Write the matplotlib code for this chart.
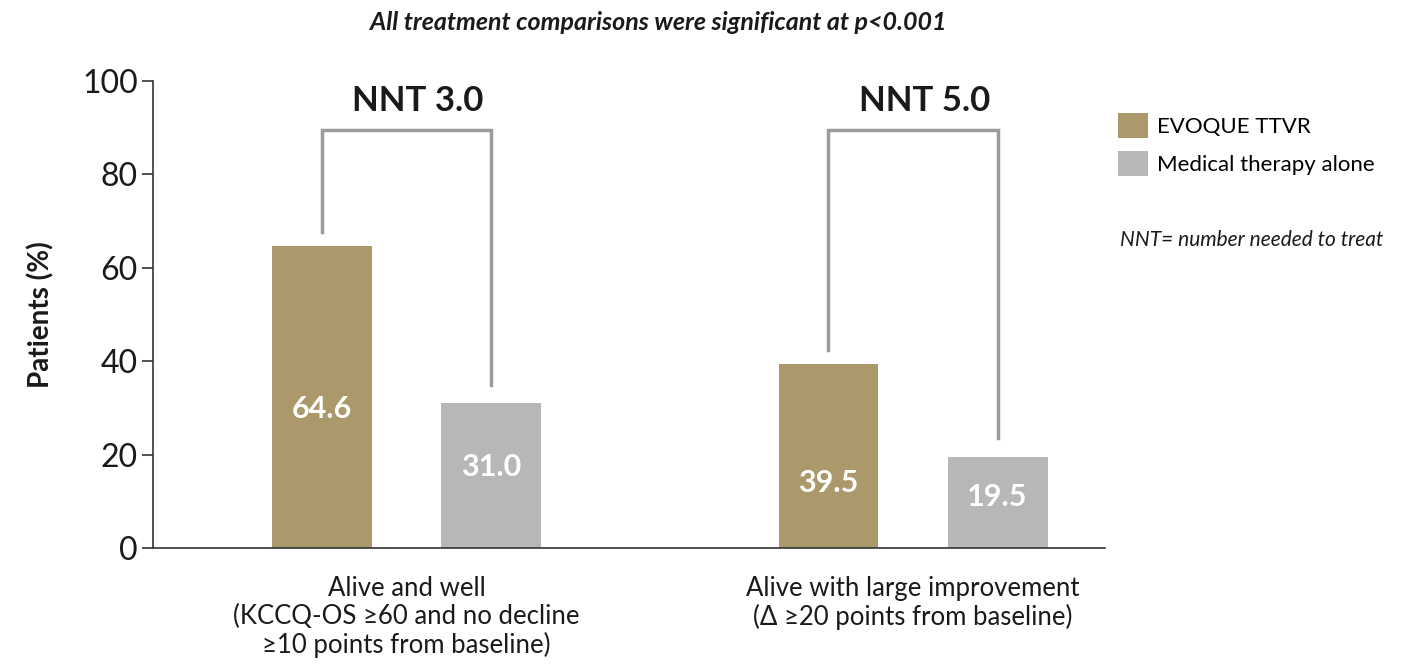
import matplotlib.pyplot as plt
import numpy as np

plt.rcParams['font.family'] = ['Lato', 'DejaVu Sans']

# data
categories = ["Alive and well\n(KCCQ-OS \u226560 and no decline\n\u226510 points from baseline)",
              "Alive with large improvement\n(\u0394 \u226520 points from baseline)"]
evoque = [64.6, 39.5]
medical = [31.0, 19.5]
nnt_labels = ["NNT 3.0", "NNT 5.0"]
series_names = ["EVOQUE TTVR", "Medical therapy alone"]

gold = "#ab996b"
grey = "#b5b8b7"
line_grey = "#9a9c9c"
ink = "#1a1a1a"

fig = plt.figure(figsize=(14.05, 6.67), dpi=100)
ax = fig.add_axes([153 / 1405, 119 / 667, 952 / 1405, 467 / 667])

x = np.arange(len(categories))
w = 0.197
off = 0.167
b1 = ax.bar(x - off, evoque, w, color=gold, label=series_names[0])
b2 = ax.bar(x + off, medical, w, color=grey, label=series_names[1])

# value labels inside bars
label_frac = [[0.46, 0.35], [0.56, 0.56]]
for bars, vals, fr in [(b1, evoque, label_frac[0]), (b2, medical, label_frac[1])]:
    for b, v, f in zip(bars, vals, fr):
        ax.text(b.get_x() + b.get_width() / 2, v * f, f"{v:.1f}", ha="center", va="center",
                color="white", fontsize=22, fontweight="bold")

# NNT brackets
top = 89.5
for i in range(len(categories)):
    xl, xr = x[i] - off, x[i] + off
    ax.plot([xl, xl, xr, xr], [evoque[i] + 3, top, top, medical[i] + 4],
            color=line_grey, lw=2.5, clip_on=False, solid_joinstyle="miter")
    ax.text(x[i] + 0.022, 95.8, nnt_labels[i], ha="center", va="center", fontsize=25,
            fontweight="bold", color=ink)

ax.set_xlim(-0.5005, 1.379)
ax.set_ylim(0, 100)
ax.set_yticks([0, 20, 40, 60, 80, 100])
ax.tick_params(axis="y", labelsize=23, length=8, width=1.2, color="#333333", pad=3,
               labelcolor=ink)
ax.set_xticks(x)
ax.set_xticklabels(categories, fontsize=18.5, color=ink, linespacing=1.15)
ax.tick_params(axis="x", length=0, pad=20)
ax.set_ylabel("Patients (%)", fontsize=20, fontweight="bold", labelpad=20, color=ink)

for s in ["top", "right"]:
    ax.spines[s].set_visible(False)
ax.spines["left"].set_color("#333333")
ax.spines["bottom"].set_color("#333333")
ax.spines["left"].set_linewidth(1.2)
ax.spines["bottom"].set_linewidth(1.2)

fig.text(658 / 1405, 1 - 22 / 667, "All treatment comparisons were significant at p<0.001",
         ha="center", va="center", fontsize=18, fontweight="bold", style="italic", color=ink)

leg = fig.legend(handles=[b1, b2], loc="upper left", bbox_to_anchor=(1109 / 1405, 1 - 104 / 667),
                 frameon=False, fontsize=16, handlelength=1.35, handleheight=1.35,
                 handletextpad=0.4, labelspacing=0.6, borderaxespad=0)

fig.text(1120 / 1405, 1 - 240 / 667, "NNT= number needed to treat", ha="left", va="center",
         fontsize=15, style="italic", color=ink)

fig.savefig("out.png", dpi=100)
